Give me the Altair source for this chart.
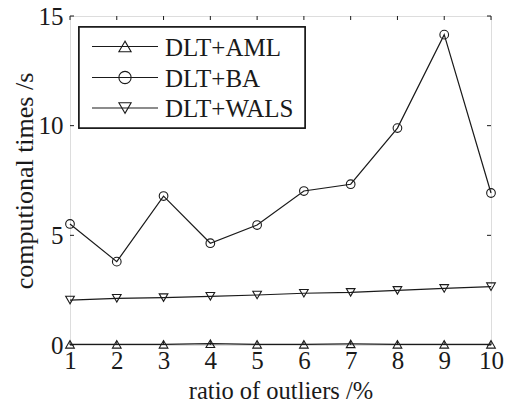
import altair as alt
import pandas as pd

ratio = [1, 2, 3, 4, 5, 6, 7, 8, 9, 10]
aml = [0.03, 0.03, 0.03, 0.06, 0.03, 0.03, 0.05, 0.03, 0.03, 0.03]
ba = [5.52, 3.80, 6.79, 4.64, 5.47, 7.02, 7.33, 9.89, 14.15, 6.93]
wals = [2.05, 2.13, 2.16, 2.22, 2.28, 2.36, 2.40, 2.49, 2.58, 2.66]
series_names = ["DLT+AML", "DLT+BA", "DLT+WALS"]
series_shapes = ["triangle-up", "circle", "triangle-down"]
x_ticks = [1, 2, 3, 4, 5, 6, 7, 8, 9, 10]
y_ticks = [0, 5, 10, 15]

W, H = 421, 329
FONT = "Liberation Serif"
INK = "#1a1a1a"

rows = []
for name, vals in zip(series_names, [aml, ba, wals]):
    for r, v in zip(ratio, vals):
        rows.append({"ratio": r, "time": v, "series": name})
df = pd.DataFrame(rows)

xs = alt.Scale(domain=[1, 10], nice=False, zero=False)
ys = alt.Scale(domain=[0, 15], nice=False)

xaxis = alt.Axis(values=x_ticks, title="ratio of outliers /%", grid=False, domain=False,
                 ticks=False, labelFont=FONT, labelFontSize=25, labelColor=INK,
                 labelPadding=3, titleFont=FONT, titleFontSize=24.5, titleFontWeight="normal",
                 titleColor=INK, titleBaseline="alphabetic", titleY=53, titleX=W / 2,
                 format="d", labelFlush=False)
yaxis = alt.Axis(values=y_ticks, title="computional times /s", grid=False, domain=False,
                 ticks=False, labelFont=FONT, labelFontSize=25, labelColor=INK,
                 labelPadding=7, titleFont=FONT, titleFontSize=26, titleFontWeight="normal",
                 titleColor=INK, titleBaseline="bottom", titleX=-33, titleY=H / 2,
                 format="d", labelFlush=False)

base = alt.Chart(df)
lines = base.mark_line(color=INK, strokeWidth=1.2).encode(
    x=alt.X("ratio:Q", scale=xs, axis=xaxis),
    y=alt.Y("time:Q", scale=ys, axis=yaxis),
    detail="series:N",
)
points = base.mark_point(filled=False, color=INK, strokeWidth=1.1, size=75, opacity=1).encode(
    x=alt.X("ratio:Q", scale=xs),
    y=alt.Y("time:Q", scale=ys),
    shape=alt.Shape("series:N", scale=alt.Scale(domain=series_names, range=series_shapes), legend=None),
)

xt = pd.DataFrame({"ratio": x_ticks})
yt = pd.DataFrame({"time": y_ticks})
tick_len = 4
xt_bottom = alt.Chart(xt).mark_rule(color=INK, strokeWidth=1).encode(
    x=alt.X("ratio:Q", scale=xs), y=alt.value(H), y2=alt.value(H - tick_len))
xt_top = alt.Chart(xt).mark_rule(color=INK, strokeWidth=1).encode(
    x=alt.X("ratio:Q", scale=xs), y=alt.value(0), y2=alt.value(tick_len))
yt_left = alt.Chart(yt).mark_rule(color=INK, strokeWidth=1).encode(
    y=alt.Y("time:Q", scale=ys), x=alt.value(0), x2=alt.value(tick_len))
yt_right = alt.Chart(yt).mark_rule(color=INK, strokeWidth=1).encode(
    y=alt.Y("time:Q", scale=ys), x=alt.value(W), x2=alt.value(W - tick_len))

# legend
leg_df = pd.DataFrame({"series": series_names})
layers = [xt_bottom, xt_top, yt_left, yt_right, lines, points]
box = alt.Chart(leg_df).mark_rect(fill="white", stroke=INK, strokeWidth=1.5).encode(
    x=alt.value(9), x2=alt.value(235), y=alt.value(11), y2=alt.value(112))
layers.append(box)
row_y = [30.5, 61.5, 92]
for name, shp, yy in zip(series_names, series_shapes, row_y):
    d = leg_df[leg_df["series"] == name]
    layers.append(alt.Chart(d).mark_rule(color=INK, strokeWidth=1.1).encode(
        x=alt.value(22), x2=alt.value(88), y=alt.value(yy)))
    layers.append(alt.Chart(d).mark_point(filled=False, color=INK, strokeWidth=1.1, size=150,
                                          shape=shp, opacity=1).encode(
        x=alt.value(55), y=alt.value(yy)))
    layers.append(alt.Chart(d).mark_text(font=FONT, fontSize=25, color=INK, align="left",
                                         baseline="middle").encode(
        x=alt.value(95), y=alt.value(yy + 1), text="series:N"))

chart = alt.layer(*layers).properties(
    width=W, height=H,
    autosize=alt.AutoSizeParams(type="none"),
    padding={"left": 70, "top": 16, "right": 14, "bottom": 58},
).configure_view(stroke=INK, strokeWidth=1.3).configure(background="white")

chart.save("out.html", embed_options={"renderer": "svg", "actions": False})
